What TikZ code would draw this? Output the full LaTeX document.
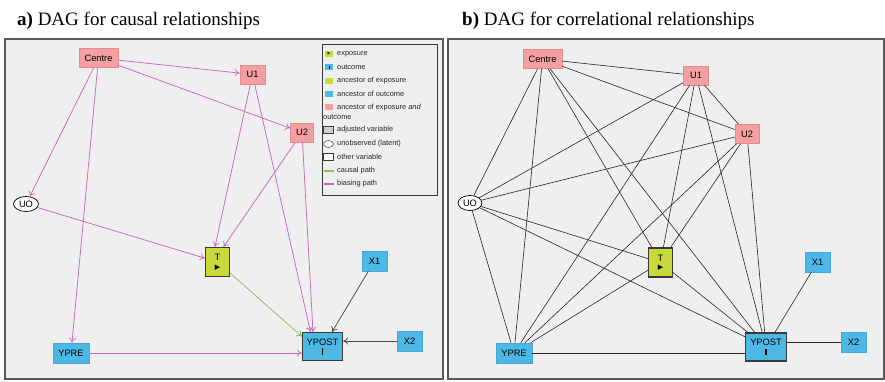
\documentclass[tikz,border=0pt]{standalone}
\usepackage{fontspec}
\setmainfont{Liberation Serif}
\setsansfont{Liberation Sans}
\newfontfamily\symfont{DejaVu Sans}
\usetikzlibrary{arrows.meta,calc,shapes.geometric}
\definecolor{panelbg}{HTML}{EFEFEF}
\definecolor{panelbd}{HTML}{5A5A5A}
\definecolor{pinkfill}{HTML}{F4A0A2}
\definecolor{pinkdraw}{HTML}{E58A8E}
\definecolor{bluefill}{HTML}{4DB8E6}
\definecolor{bluedraw}{HTML}{45A8D8}
\definecolor{expfill}{HTML}{C8D93C}
\definecolor{darkbd}{HTML}{3A3A3A}
\definecolor{biascol}{HTML}{CC66C4}
\definecolor{causalcol}{HTML}{8CC063}
\definecolor{graycol}{HTML}{4A4A4A}
\definecolor{adjfill}{HTML}{CFCFCF}
\begin{document}
\begin{tikzpicture}[x=1pt,y=-1pt,
  nd/.style={draw, rectangle, inner sep=0pt, align=center,
    font=\sffamily\fontsize{9.3}{10}\selectfont},
  pinkn/.style={nd, fill=pinkfill, draw=pinkdraw, line width=0.6pt, minimum height=19pt},
  bluen/.style={nd, fill=bluefill, draw=bluedraw, line width=0.6pt, minimum width=25pt, minimum height=20pt},
  expn/.style={nd, fill=expfill, draw=darkbd, line width=1.2pt, minimum width=24pt, minimum height=29pt},
  outn/.style={nd, fill=bluefill, draw=darkbd, line width=1.2pt, minimum width=40pt, minimum height=28pt},
  latn/.style={ellipse, draw=black, fill=white, line width=0.7pt, inner sep=0pt,
    minimum width=25pt, minimum height=15pt, font=\sffamily\fontsize{9.3}{10}\selectfont},
  bias/.style={draw=biascol, line width=0.75pt, -{To[length=5pt,width=7pt]}},
  causal/.style={draw=causalcol, line width=0.75pt, -{To[length=5pt,width=7pt]}},
  plainarr/.style={draw=graycol, line width=0.75pt, -{To[length=5pt,width=7pt]}},
  undir/.style={draw=black!85, line width=0.6pt},
  panel/.style={fill=panelbg, draw=panelbd, line width=1.3pt},
  title/.style={anchor=base west, inner sep=0pt, font=\fontsize{19}{22}\selectfont},
  legtxt/.style={anchor=west, inner sep=0pt, text=black!85, font=\sffamily\fontsize{7.4}{8}\selectfont},
  swatch/.style={rectangle, inner sep=0pt, minimum width=8pt, minimum height=6pt}
]
\useasboundingbox (0,0) rectangle (885,381);
\fill[white] (0,0) rectangle (885,381);

% titles
\node[title] (ta) at (17,25) {\textbf{a)} DAG for causal relationships};
\node[title] (tb) at (462,25) {\textbf{b)} DAG for correlational relationships};

% panels
\draw[panel] (5,39) rectangle (443,379);
\draw[panel] (448,39) rectangle (884,379);

% ---------------- left panel ----------------
\node[pinkn, minimum width=39pt] (Centre) at (98.5,58) {Centre};
\node[pinkn, minimum width=25pt] (U1) at (252.5,74.5) {U1};
\node[pinkn, minimum width=23pt] (U2) at (302,132.5) {U2};
\node[latn] (UO) at (26,204) {UO};
\node[expn] (T) at (217.5,262) {T\\[-1.5pt]{\symfont\fontsize{7}{7}\selectfont ▶}};
\node[bluen] (X1) at (374.5,261) {X1};
\node[outn] (YPOST) at (322.5,346.5) {YPOST\\[-0.5pt]\rule{1.8pt}{6.5pt}};
\node[bluen] (X2) at (409.5,341) {X2};
\node[bluen, minimum width=36pt] (YPRE) at (71,353) {YPRE};

\draw[bias] (Centre) -- (U1);
\draw[bias] (Centre) -- (U2);
\draw[bias] (Centre) -- (UO);
\draw[bias] (Centre) -- (YPRE);
\draw[bias] (U1) -- ($(T.north)+(-2.5,0)$);
\draw[bias] (U2) -- ($(T.north)+(6,0)$);
\draw[bias] (UO) -- (T);
\draw[bias] (U1) -- ($(YPOST.north)+(-12,0)$);
\draw[bias] (U2) -- ($(YPOST.north)+(-9.5,0)$);
\draw[bias] (YPRE.east) -- (YPRE.east -| YPOST.west);
\draw[causal] (T) -- ($(YPOST.west)+(0,-10)$);
\draw[plainarr] (X1) -- ($(YPOST.north)+(9.5,0)$);
\draw[plainarr] (X2.west) -- (X2.west -| YPOST.east);

% legend
\draw[fill=panelbg, draw=darkbd, line width=1pt] (322,44) rectangle (437,195);
\node[swatch, fill=expfill] (s1) at (329,54) {\symfont\fontsize{3.5}{3.5}\selectfont ▶};
\node[legtxt] (l1) at (337,54) {exposure};
\node[swatch, fill=bluefill] (s2) at (329,67) {\rule{0.9pt}{3pt}};
\node[legtxt] (l2) at (337,67) {outcome};
\node[swatch, fill=expfill] (s3) at (329,81) {};
\node[legtxt] (l3) at (337,81) {ancestor of exposure};
\node[swatch, fill=bluefill] (s4) at (329,94) {};
\node[legtxt] (l4) at (337,94) {ancestor of outcome};
\node[swatch, fill=pinkfill] (s5) at (329,107) {};
\node[legtxt] (l5) at (337,107.5) {ancestor of exposure \textit{and}};
\node[legtxt] (l5b) at (323,117) {outcome};
\node[swatch, fill=adjfill, draw=darkbd, line width=0.5pt, minimum width=10pt, minimum height=7pt] (s6) at (328.5,130) {};
\node[legtxt] (l6) at (337,130) {adjusted variable};
\node[ellipse, fill=white, draw=darkbd, line width=0.5pt, inner sep=0pt, minimum width=10pt, minimum height=7pt] (s7) at (328.5,144) {};
\node[legtxt] (l7) at (337,144) {unobserved (latent)};
\node[swatch, fill=white, draw=darkbd, line width=0.5pt, minimum width=10pt, minimum height=7pt] (s8) at (328.5,157) {};
\node[legtxt] (l8) at (337,157) {other variable};
\draw[causalcol, line width=2pt] (323.5,171) -- (333.5,171);
\node[legtxt] (l9) at (337,171) {causal path};
\draw[biascol, line width=2pt] (323.5,184) -- (333.5,184);
\node[legtxt] (l10) at (337,184) {biasing path};

% ---------------- right panel ----------------
\node[pinkn, minimum width=39pt] (rCentre) at (542.5,59) {Centre};
\node[pinkn, minimum width=25pt] (rU1) at (696,75.5) {U1};
\node[pinkn, minimum width=24pt] (rU2) at (747,134) {U2};
\node[latn, minimum width=24pt] (rUO) at (470,203) {UO};
\node[expn] (rT) at (660.5,262.5) {T\\[-1.5pt]{\symfont\fontsize{7}{7}\selectfont ▶}};
\node[bluen] (rX1) at (817.5,262) {X1};
\node[outn, minimum width=41pt] (rYPOST) at (766,347) {YPOST\\[-0.5pt]\rule{1.8pt}{6.5pt}};
\node[bluen] (rX2) at (853.5,342) {X2};
\node[bluen, minimum width=36pt] (rYPRE) at (514,353) {YPRE};

\foreach \a/\b in {rCentre/rU1, rCentre/rU2, rCentre/rUO, rCentre/rYPRE, rCentre/rT, rCentre/rYPOST,
  rU1/rU2, rU1/rUO, rU1/rYPRE, rU1/rT, rU1/rYPOST,
  rU2/rUO, rU2/rYPRE, rU2/rT, rU2/rYPOST,
  rUO/rYPRE, rUO/rT, rUO/rYPOST,
  rYPRE/rT, rT/rYPOST, rX1/rYPOST}
  \draw[undir] (\a) -- (\b);
\draw[undir] (rYPRE.east) -- (rYPRE.east -| rYPOST.west);
\draw[undir] (rX2.west) -- (rX2.west -| rYPOST.east);
\end{tikzpicture}
\end{document}
